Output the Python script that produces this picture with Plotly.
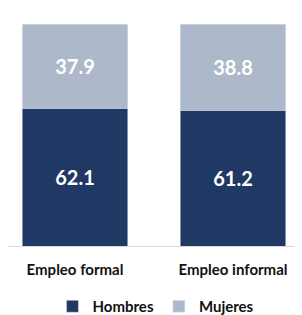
import plotly.graph_objects as go

categories = ["Empleo formal", "Empleo informal"]
hombres = [62.1, 61.2]
mujeres = [37.9, 38.8]

fig = go.Figure()
fig.add_trace(go.Bar(
    name="Hombres", x=categories, y=hombres, marker_color="#203864",
    text=[f"{v:.1f}" for v in hombres], textposition="inside", insidetextanchor="middle",
    textfont=dict(color="white", size=20, family="Lato", weight="bold"),
))
fig.add_trace(go.Bar(
    name="Mujeres", x=categories, y=mujeres, marker_color="#ADB9CA",
    text=[f"{v:.1f}" for v in mujeres], textposition="inside", insidetextanchor="middle",
    textfont=dict(color="white", size=20, family="Lato", weight="bold"),
))
fig.update_layout(
    barmode="stack", bargap=0.33,
    width=302, height=315,
    margin=dict(l=0, r=0, t=16, b=67),
    plot_bgcolor="white", paper_bgcolor="white",
    font=dict(family="Lato", color="#111111"),
    showlegend=True,
    legend=dict(orientation="h", x=0.49, xanchor="center", y=-0.2, yanchor="top",
                font=dict(size=15, weight="bold"), itemwidth=30, traceorder="normal"),
    uniformtext=dict(mode=False),
)
fig.update_xaxes(range=[-0.424, 1.487], showline=True, linecolor="#D9D9D9", linewidth=1,
                 tickfont=dict(size=15, weight="bold"), ticks="", ticklabelstandoff=10)
fig.update_yaxes(range=[0, 100], visible=False, showgrid=False)
fig.write_html("out.html")
